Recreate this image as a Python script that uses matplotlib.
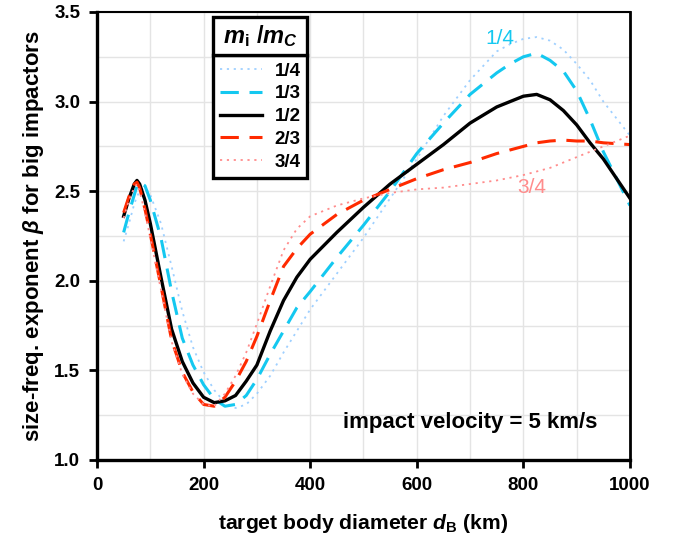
import matplotlib
matplotlib.use('Agg')
import matplotlib.pyplot as plt
from matplotlib.ticker import MultipleLocator, FormatStrFormatter
from matplotlib.patches import Rectangle

plt.rcParams['font.family'] = ['Liberation Sans', 'DejaVu Sans']
plt.rcParams['mathtext.fontset'] = 'custom'
plt.rcParams['mathtext.rm'] = 'Liberation Sans:bold'
plt.rcParams['mathtext.it'] = 'Liberation Sans:italic:bold'
plt.rcParams['mathtext.bf'] = 'Liberation Sans:bold'

# target body diameter (km)
d = [50, 60, 70, 75, 80, 90, 100, 120, 140, 160, 180, 200, 220, 240, 260, 280, 300,
     325, 350, 375, 400, 450, 500, 550, 600, 650, 700, 750, 775, 800, 825, 850, 875,
     900, 925, 950, 1000]

# size-frequency exponent beta for each mass ratio m_i/m_C
b_14 = [2.22, 2.32, 2.43, 2.47, 2.50, 2.52, 2.48, 2.32, 2.08, 1.83, 1.63, 1.49, 1.39, 1.32, 1.29, 1.31, 1.37,
        1.47, 1.60, 1.72, 1.84, 2.04, 2.24, 2.46, 2.68, 2.92, 3.12, 3.28, 3.32, 3.35, 3.36, 3.34, 3.29,
        3.21, 3.12, 3.00, 2.81]
b_13 = [2.27, 2.38, 2.48, 2.53, 2.55, 2.53, 2.45, 2.24, 1.94, 1.68, 1.53, 1.42, 1.34, 1.30, 1.31, 1.36, 1.45,
        1.59, 1.72, 1.85, 1.94, 2.13, 2.31, 2.50, 2.71, 2.88, 3.04, 3.16, 3.21, 3.25, 3.27, 3.23, 3.17,
        3.06, 2.90, 2.72, 2.42]
b_12 = [2.36, 2.46, 2.54, 2.56, 2.54, 2.45, 2.32, 2.02, 1.73, 1.55, 1.43, 1.35, 1.32, 1.33, 1.36, 1.44, 1.53,
        1.72, 1.89, 2.02, 2.12, 2.27, 2.41, 2.54, 2.65, 2.76, 2.88, 2.97, 3.00, 3.03, 3.04, 3.01, 2.95,
        2.87, 2.77, 2.68, 2.46]
b_23 = [2.38, 2.47, 2.54, 2.55, 2.52, 2.40, 2.26, 1.97, 1.67, 1.49, 1.38, 1.31, 1.30, 1.35, 1.44, 1.55, 1.69,
        1.89, 2.08, 2.18, 2.26, 2.37, 2.45, 2.51, 2.57, 2.62, 2.66, 2.71, 2.73, 2.75, 2.77, 2.78, 2.785,
        2.78, 2.78, 2.77, 2.76]
b_34 = [2.35, 2.45, 2.52, 2.54, 2.50, 2.38, 2.24, 1.95, 1.66, 1.48, 1.37, 1.31, 1.30, 1.37, 1.47, 1.60, 1.76,
        1.97, 2.17, 2.29, 2.36, 2.42, 2.46, 2.49, 2.51, 2.52, 2.54, 2.56, 2.575, 2.59, 2.61, 2.63, 2.66,
        2.69, 2.72, 2.75, 2.81]

labels = ['1/4', '1/3', '1/2', '2/3', '3/4']

fig = plt.figure(figsize=(6.75, 5.37), dpi=100)
ax = fig.add_axes([0.1437, 0.1434, 0.7896, 0.8343])

ax.plot(d, b_14, color='#9fd0ff', lw=1.3, ls=(0, (1.2, 2.6)), label=labels[0])
ax.plot(d, b_13, color='#14c8f0', lw=2.2, ls=(0, (6, 3.5)), label=labels[1])
ax.plot(d, b_12, color='black', lw=2.4, ls='-', label=labels[2])
ax.plot(d, b_23, color='#ff2a00', lw=2.2, ls=(0, (6, 3.5)), label=labels[3])
ax.plot(d, b_34, color='#ff8c8c', lw=1.3, ls=(0, (1.2, 2.6)), label=labels[4])

ax.set_xlim(0, 1000)
ax.set_ylim(1.0, 3.5)
ax.xaxis.set_major_locator(MultipleLocator(200))
ax.xaxis.set_minor_locator(MultipleLocator(100))
ax.yaxis.set_major_locator(MultipleLocator(0.5))
ax.yaxis.set_minor_locator(MultipleLocator(0.25))
ax.yaxis.set_major_formatter(FormatStrFormatter('%.1f'))
ax.grid(True, which='both', color='#e4e4e4', lw=1)
ax.set_axisbelow(True)
ax.tick_params(which='major', direction='out', length=6, width=2, labelsize=13.5, pad=6)
ax.tick_params(which='minor', length=0)
for t in ax.get_xticklabels() + ax.get_yticklabels():
    t.set_fontweight('bold')

for s in ['left', 'bottom']:
    ax.spines[s].set_linewidth(2.4)
ax.spines['right'].set_linewidth(2.0)
ax.spines['top'].set_linewidth(1.5)

ax.set_xlabel(r'target body diameter $d_{\mathrm{B}}$ (km)', fontsize=15.2, fontweight='bold', labelpad=13)
ax.set_ylabel(r'size-freq. exponent $\beta$ for big impactors', fontsize=16, fontweight='bold', labelpad=6)

ax.text(756, 3.35, '1/4', color='#14c8f0', fontsize=15, ha='center', va='center')
ax.text(816, 2.52, '3/4', color='#ff8c8c', fontsize=15, ha='center', va='center')
ax.text(700, 1.21, 'impact velocity = 5 km/s', fontsize=16, fontweight='bold', ha='center', va='center')

# legend entries box, title box drawn on top of it
lx0, lx1 = 0.2176, 0.394
ly_top, ly_mid = 0.989, 0.904
leg = ax.legend(loc='upper left', bbox_to_anchor=(lx0, 0.5, lx1 - lx0, ly_mid - 0.5), mode='expand',
                prop={'weight': 'bold', 'size': 13.5}, handlelength=2.2, fancybox=False,
                framealpha=1, edgecolor='black', borderaxespad=0, borderpad=0.4,
                labelspacing=0.3, handletextpad=0.7)
leg.get_frame().set_linewidth(2.4)

ax.add_patch(Rectangle((lx0, ly_mid), lx1 - lx0, ly_top - ly_mid, transform=ax.transAxes,
                       facecolor='white', edgecolor='black', lw=2.4, zorder=6, clip_on=False))
ax.text((lx0 + lx1) / 2, (ly_mid + ly_top) / 2, r'$m_{\mathrm{i}}\ /m_{C}$', transform=ax.transAxes,
        fontsize=17, ha='center', va='center', zorder=7)

fig.savefig('out.png', dpi=100)
